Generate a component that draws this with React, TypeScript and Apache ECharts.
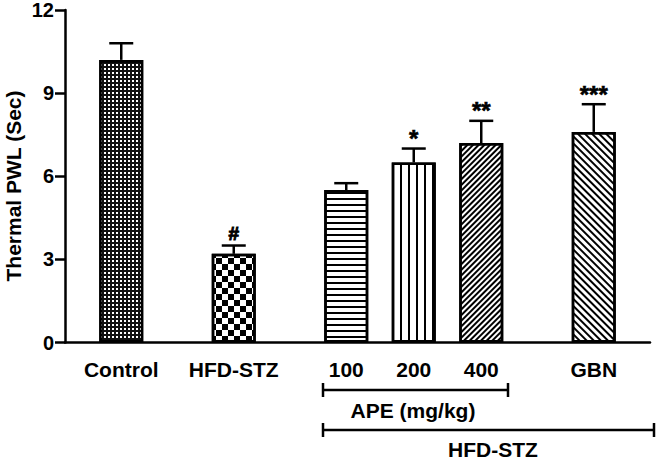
import React, { useEffect, useRef } from "react";
import * as echarts from "echarts";

// ---- data ----
const groups = ["Control", "HFD-STZ", "100", "200", "400", "GBN"];
const means = [10.2, 3.2, 5.5, 6.5, 7.2, 7.6];
const errors = [0.6, 0.3, 0.25, 0.5, 0.8, 1.0];
const marks = ["", "#", "", "*", "**", "***"];
const yMin = 0;
const yMax = 12;
const yStep = 3;
const yTitle = "Thermal PWL (Sec)";
const bracketApe = "APE (mg/kg)";
const bracketHfd = "HFD-STZ";

// ---- layout ----
const SLOT_COUNT = 26;
const groupSlots = [2, 7, 12, 15, 18, 23];
const FONT = "'Liberation Sans', Arial, Helvetica, sans-serif";

const decals: any[] = [
  { symbol: "rect", symbolSize: 1, symbolKeepAspect: false, color: "#ffffff", dashArrayX: [1.8, 1.4], dashArrayY: [1.8, 1.4] },
  { symbol: "rect", symbolSize: 1, symbolKeepAspect: false, color: "#000000", dashArrayX: [[5.5, 5.5], [0, 5.5, 5.5, 0]], dashArrayY: [5.5, 0] },
  { symbol: "rect", symbolSize: 1, symbolKeepAspect: false, color: "#000000", dashArrayX: [10, 0], dashArrayY: [2, 3.7] },
  { symbol: "rect", symbolSize: 1, symbolKeepAspect: false, color: "#000000", dashArrayX: [2, 5.6], dashArrayY: [10, 0] },
  { symbol: "rect", symbolSize: 1, symbolKeepAspect: false, color: "#000000", dashArrayX: [10, 0], dashArrayY: [1.4, 1.6], rotation: -Math.PI / 4 },
  { symbol: "rect", symbolSize: 1, symbolKeepAspect: false, color: "#000000", dashArrayX: [10, 0], dashArrayY: [1.7, 2.2], rotation: Math.PI / 4 },
];
const fills = ["#111111", "#ffffff", "#ffffff", "#ffffff", "#ffffff", "#ffffff"];

export default function App() {
  const ref = useRef<HTMLDivElement>(null);
  useEffect(() => {
    if (!ref.current) return;
    const chart = echarts.init(ref.current, null, { renderer: "svg" });

    const categories: string[] = new Array(SLOT_COUNT).fill("");
    const barData: any[] = new Array(SLOT_COUNT).fill("-");
    groupSlots.forEach((s, i) => {
      categories[s] = groups[i];
      barData[s] = {
        value: means[i],
        itemStyle: { color: fills[i], decal: decals[i], borderColor: "#000", borderWidth: 2.5 },
      };
    });
    const errData = groupSlots.map((s, i) => [s, means[i], errors[i]]);

    const option: any = {
      animation: false,
      aria: { enabled: true, decal: { show: true } },
      grid: { left: 65, right: 7, top: 8.5, bottom: 117.5, containLabel: false },
      xAxis: {
        type: "category",
        data: categories,
        axisLine: { lineStyle: { color: "#000", width: 2.5 } },
        axisTick: {
          alignWithLabel: true,
          length: 8,
          lineStyle: { color: "#000", width: 2.5 },
          interval: (idx: number, val: string) => val !== "",
        },
        axisLabel: {
          interval: (idx: number, val: string) => val !== "",
          color: "#000",
          fontFamily: FONT,
          fontWeight: "bold",
          fontSize: 21,
          margin: 16,
        },
        splitLine: { show: false },
      },
      yAxis: {
        type: "value",
        min: yMin,
        max: yMax,
        interval: yStep,
        axisLine: { show: true, lineStyle: { color: "#000", width: 2.5 } },
        axisTick: { show: true, length: 10, lineStyle: { color: "#000", width: 2.5 } },
        axisLabel: { color: "#000", fontFamily: FONT, fontWeight: "bold", fontSize: 20, margin: 11 },
        splitLine: { show: false },
      },
      series: [
        {
          type: "bar",
          data: barData,
          barWidth: 44,
          silent: true,
        },
        {
          type: "custom",
          silent: true,
          data: errData,
          z: 5,
          renderItem: (params: any, api: any) => {
            const x = api.value(0);
            const m = api.value(1);
            const e = api.value(2);
            const p0 = api.coord([x, m]);
            const p1 = api.coord([x, m + e]);
            const half = 12;
            const mark = marks[params.dataIndex];
            const children: any[] = [
              { type: "line", shape: { x1: p0[0], y1: p0[1], x2: p1[0], y2: p1[1] }, style: { stroke: "#000", lineWidth: 2.5 } },
              { type: "line", shape: { x1: p1[0] - half, y1: p1[1], x2: p1[0] + half, y2: p1[1] }, style: { stroke: "#000", lineWidth: 2.5 } },
            ];
            if (mark) {
              const isStar = mark[0] === "*";
              children.push({
                type: "text",
                x: p1[0],
                y: isStar ? p1[1] + 2 : p1[1] - 3,
                style: {
                  text: mark,
                  fill: "#000",
                  stroke: "#000",
                  lineWidth: isStar ? 0.6 : 1,
                  font: `bold ${isStar ? 24 : 19}px ${FONT}`,
                  textAlign: "center",
                  textVerticalAlign: "bottom",
                },
              });
            }
            return { type: "group", children };
          },
        },
      ],
      graphic: [
        {
          type: "text",
          x: 13,
          y: 186,
          rotation: Math.PI / 2,
          style: { text: yTitle, fill: "#000", font: `bold 21px ${FONT}`, textAlign: "center", textVerticalAlign: "middle" },
        },
        { type: "line", shape: { x1: 323, y1: 390, x2: 508, y2: 390 }, style: { stroke: "#000", lineWidth: 2.5 } },
        { type: "line", shape: { x1: 323, y1: 383, x2: 323, y2: 397 }, style: { stroke: "#000", lineWidth: 2.5 } },
        { type: "line", shape: { x1: 508, y1: 383, x2: 508, y2: 397 }, style: { stroke: "#000", lineWidth: 2.5 } },
        {
          type: "text",
          x: 413,
          y: 410,
          style: { text: bracketApe, fill: "#000", font: `bold 21px ${FONT}`, textAlign: "center", textVerticalAlign: "middle" },
        },
        { type: "line", shape: { x1: 323, y1: 430, x2: 654, y2: 430 }, style: { stroke: "#000", lineWidth: 2.5 } },
        { type: "line", shape: { x1: 323, y1: 423, x2: 323, y2: 437 }, style: { stroke: "#000", lineWidth: 2.5 } },
        { type: "line", shape: { x1: 654, y1: 423, x2: 654, y2: 437 }, style: { stroke: "#000", lineWidth: 2.5 } },
        {
          type: "text",
          x: 493,
          y: 449,
          style: { text: bracketHfd, fill: "#000", font: `bold 21px ${FONT}`, textAlign: "center", textVerticalAlign: "middle" },
        },
      ],
    };
    chart.setOption(option);
    return () => chart.dispose();
  }, []);
  return (
    <div
      ref={ref}
      style={{ position: "fixed", left: 0, top: 0, width: 657, height: 460, background: "#fff" }}
    />
  );
}
